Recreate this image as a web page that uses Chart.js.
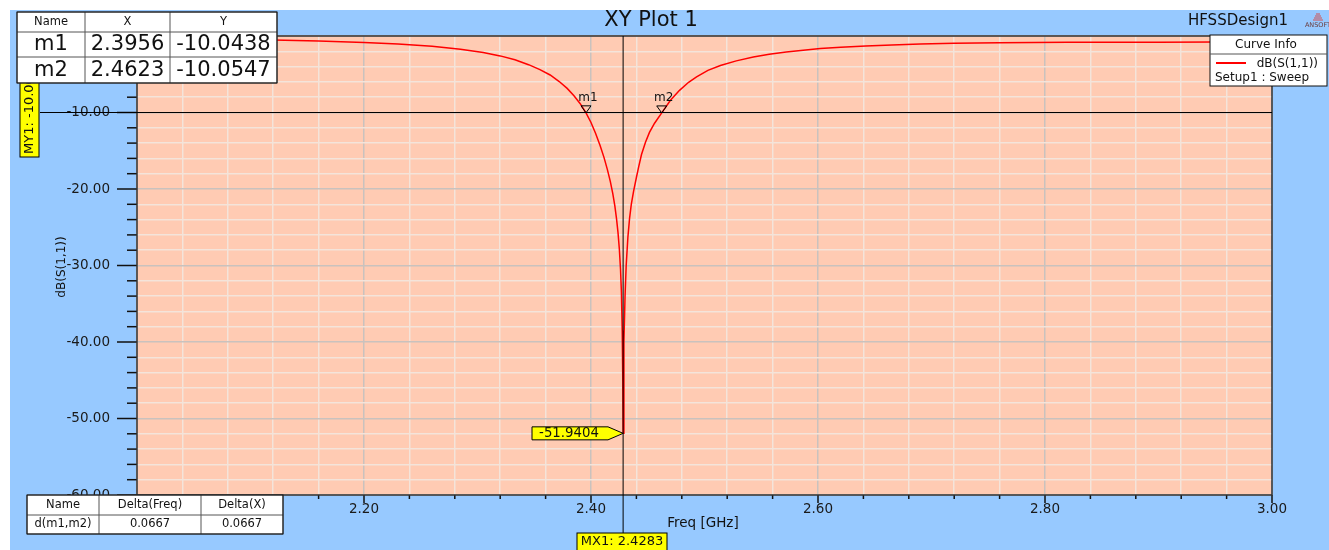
<!DOCTYPE html>
<html>
<head>
<meta charset="utf-8">
<script src="https://cdn.jsdelivr.net/npm/chart.js@4.4.0/dist/chart.umd.min.js"></script>
<style>
  body { margin: 0; background: #fff; }
</style>
</head>
<body>
<canvas id="xy-plot" width="1329" height="550"></canvas>
<script>
// curve: Freq [GHz] / dB(S(1,1))
var freqs = [2.000, 2.040, 2.080, 2.120, 2.160, 2.200, 2.230, 2.260, 2.285, 2.305,
             2.320, 2.333, 2.345, 2.355, 2.364, 2.372, 2.379, 2.385, 2.3905, 2.3956,
             2.400, 2.404, 2.408, 2.4115, 2.4145, 2.4170, 2.4192, 2.4210, 2.4225, 2.4238,
             2.4250, 2.4260, 2.4268, 2.4275, 2.4280, 2.4283, 2.4290, 2.4300, 2.4310, 2.4325,
             2.4340, 2.4355, 2.4375, 2.4400, 2.4420, 2.4445, 2.4480, 2.4515, 2.4560, 2.4623,
             2.4700, 2.4780, 2.4860, 2.4930, 2.5030, 2.5140, 2.5280, 2.5430, 2.5570, 2.5720,
             2.5870, 2.6020, 2.6200, 2.6420, 2.6650, 2.6900, 2.7200, 2.7600, 2.8200, 2.9000,
             2.9500, 3.0000];
var s11 = [-0.30, -0.36, -0.43, -0.52, -0.66, -0.86, -1.05, -1.35, -1.72, -2.15,
           -2.60, -3.10, -3.75, -4.40, -5.10, -5.95, -6.85, -7.80, -8.85, -10.04,
           -11.3, -12.7, -14.3, -15.9, -17.5, -19.0, -20.6, -22.2, -23.9, -25.7,
           -27.9, -30.5, -33.5, -38.5, -45.0, -51.94, -40.0, -34.0, -30.0, -26.3,
           -23.8, -22.0, -20.3, -18.5, -17.1, -15.5, -13.9, -12.6, -11.4, -10.05,
           -8.40, -7.10, -6.05, -5.35, -4.50, -3.85, -3.25, -2.75, -2.40, -2.10,
           -1.85, -1.65, -1.48, -1.32, -1.18, -1.06, -0.96, -0.88, -0.83, -0.81,
           -0.79, -0.74];

var xMajor = [2.0, 2.2, 2.4, 2.6, 2.8, 3.0];
var yMajor = [0, -10, -20, -30, -40, -50, -60];

var markerNames = ['m1', 'm2'];
var markerFreqs = [2.3956, 2.4623];
var markerVals = [-10.0438, -10.0547];
var minFreq = 2.4283;
var minVal = -51.9404;
var lineY = -10.00;

var FONT = '"DejaVu Sans", "Liberation Sans", Arial, sans-serif';
function f(px) { return px + 'px ' + FONT; }

function isMajor(list, v) {
    return list.some(function(m) { return Math.abs(m - v) < 1e-6; });
}

function line(c, x1, y1, x2, y2) {
    c.beginPath();
    c.moveTo(x1, y1);
    c.lineTo(x2, y2);
    c.stroke();
}

function text(c, s, x, y, size, align) {
    c.font = f(size);
    c.textAlign = align || 'center';
    c.textBaseline = 'middle';
    c.fillText(s, x, y);
}

function grid(c, cols, rows) {
    c.fillStyle = '#fff';
    c.fillRect(cols[0], rows[0], cols[cols.length - 1] - cols[0], rows[rows.length - 1] - rows[0]);
    c.strokeStyle = '#555';
    c.lineWidth = 1;
    cols.forEach(function(x) { line(c, x, rows[0], x, rows[rows.length - 1]); });
    rows.forEach(function(y) { line(c, cols[0], y, cols[cols.length - 1], y); });
    c.strokeStyle = '#111';
    c.strokeRect(cols[0], rows[0], cols[cols.length - 1] - cols[0], rows[rows.length - 1] - rows[0]);
}

var deco = {
    id: 'deco',
    beforeDraw: function(chart) {
        var c = chart.ctx, a = chart.chartArea;
        c.save();
        c.fillStyle = '#fff';
        c.fillRect(0, 0, chart.width, chart.height);
        c.fillStyle = '#97c9ff';
        c.fillRect(10, 10, chart.width - 10, chart.height - 10);
        c.fillStyle = '#ffcbb3';
        c.fillRect(a.left, a.top, a.right - a.left, a.bottom - a.top);
        c.restore();
    },
    afterDraw: function(chart) {
        var c = chart.ctx, a = chart.chartArea;
        var xs = chart.scales.x, ys = chart.scales.y;
        c.save();

        // tick marks
        c.strokeStyle = '#111';
        c.lineWidth = 1.5;
        ys.ticks.forEach(function(t) {
            var py = ys.getPixelForValue(t.value);
            var len = isMajor(yMajor, t.value) ? 20 : 10;
            line(c, a.left - len, py, a.left, py);
        });
        xs.ticks.forEach(function(t) {
            var px = xs.getPixelForValue(t.value);
            var len = isMajor(xMajor, t.value) ? 8 : 4;
            line(c, px, a.bottom, px, a.bottom + len);
        });

        // plot frame
        c.strokeStyle = '#333';
        c.lineWidth = 1.5;
        c.strokeRect(a.left, a.top, a.right - a.left, a.bottom - a.top);

        // marker lines
        c.strokeStyle = '#000';
        c.lineWidth = 1;
        var hy = ys.getPixelForValue(lineY);
        line(c, 40, hy, a.right, hy);
        var vx = xs.getPixelForValue(minFreq);
        line(c, vx, a.top, vx, 534);

        // m1 / m2 triangles
        c.fillStyle = '#111';
        for (var i = 0; i < markerNames.length; i++) {
            var mx = xs.getPixelForValue(markerFreqs[i]);
            var my = ys.getPixelForValue(markerVals[i]);
            c.beginPath();
            c.moveTo(mx - 5, my - 7);
            c.lineTo(mx + 5, my - 7);
            c.lineTo(mx, my);
            c.closePath();
            c.stroke();
            text(c, markerNames[i], mx + 2, my - 15, 12);
        }

        // MY1 label (vertical)
        c.fillStyle = '#ffff00';
        c.fillRect(20, 76, 19, 81);
        c.strokeRect(20, 76, 19, 81);
        c.save();
        c.translate(30, 154);
        c.rotate(-Math.PI / 2);
        c.fillStyle = '#111';
        text(c, 'MY1: ' + lineY.toFixed(2), 0, 0, 13, 'left');
        c.restore();

        // minimum value arrow label
        var tipX = xs.getPixelForValue(minFreq), tipY = ys.getPixelForValue(minVal);
        c.fillStyle = '#ffff00';
        c.beginPath();
        c.moveTo(532, tipY - 6.5);
        c.lineTo(608, tipY - 6.5);
        c.lineTo(tipX, tipY);
        c.lineTo(608, tipY + 6.5);
        c.lineTo(532, tipY + 6.5);
        c.closePath();
        c.fill();
        c.stroke();
        c.fillStyle = '#111';
        text(c, minVal.toFixed(4), 569, tipY, 13.3);

        // MX1 label
        c.fillStyle = '#ffff00';
        c.fillRect(577, 533, 90, 20);
        c.strokeRect(577, 533, 90, 20);
        c.fillStyle = '#111';
        text(c, 'MX1: ' + minFreq.toFixed(4), 622, 542, 13);

        // axis titles
        text(c, 'Freq [GHz]', 703, 523, 13.5);
        c.save();
        c.translate(62, 267);
        c.rotate(-Math.PI / 2);
        text(c, 'dB(S(1,1))', 0, 0, 12);
        c.restore();

        // title and design name
        text(c, 'XY Plot 1', 651, 21, 21);
        text(c, 'HFSSDesign1', 1288, 21, 15, 'right');
        c.strokeStyle = '#d05050';
        for (var k = 0; k < 4; k++) {
            line(c, 1313 + k, 20 - k * 2, 1323 - k, 20 - k * 2);
        }
        c.fillStyle = '#6b3b3b';
        text(c, 'ANSOFT', 1318, 25, 6.5);

        // marker table
        grid(c, [17, 85, 170, 277], [12, 32, 57, 83]);
        c.fillStyle = '#111';
        text(c, 'Name', 51, 22, 11.5);
        text(c, 'X', 127.5, 22, 11.5);
        text(c, 'Y', 223.5, 22, 11.5);
        for (var r = 0; r < markerNames.length; r++) {
            var cy = 45 + r * 25.5;
            text(c, markerNames[r], 51, cy, 21);
            text(c, markerFreqs[r].toFixed(4), 127.5, cy, 21);
            text(c, markerVals[r].toFixed(4), 223.5, cy, 21);
        }

        // delta table
        grid(c, [27, 99, 201, 283], [495, 515, 534]);
        c.fillStyle = '#111';
        var dF = (markerFreqs[1] - markerFreqs[0]).toFixed(4);
        text(c, 'Name', 63, 505, 11.5);
        text(c, 'Delta(Freq)', 150, 505, 11.5);
        text(c, 'Delta(X)', 242, 505, 11.5);
        text(c, 'd(' + markerNames[0] + ',' + markerNames[1] + ')', 63, 524.5, 11.5);
        text(c, dF, 150, 524.5, 11.5);
        text(c, dF, 242, 524.5, 11.5);

        // curve info legend
        c.fillStyle = '#fff';
        c.fillRect(1210, 35, 117, 51);
        c.strokeStyle = '#111';
        c.strokeRect(1210, 35, 117, 51);
        c.strokeStyle = '#555';
        line(c, 1210, 54, 1327, 54);
        c.fillStyle = '#111';
        text(c, 'Curve Info', 1266, 44.5, 12);
        c.strokeStyle = '#ff0000';
        c.lineWidth = 2;
        line(c, 1216, 63, 1246, 63);
        c.fillStyle = '#111';
        text(c, 'dB(S(1,1))', 1318, 64, 12, 'right');
        text(c, 'Setup1 : Sweep', 1215, 77.5, 12, 'left');

        c.restore();
    }
};

var points = freqs.map(function(v, i) { return { x: v, y: s11[i] }; });

new Chart(document.getElementById('xy-plot'), {
    type: 'line',
    data: {
        datasets: [{
            label: 'dB(S(1,1))',
            data: points,
            borderColor: '#ff0000',
            borderWidth: 1.5,
            pointRadius: 0,
            tension: 0,
            fill: false
        }]
    },
    options: {
        responsive: false,
        animation: false,
        devicePixelRatio: 1,
        layout: { padding: { top: 36, right: 57, left: 0, bottom: 0 } },
        plugins: {
            legend: { display: false },
            tooltip: { enabled: false }
        },
        scales: {
            x: {
                type: 'linear',
                min: 2.0,
                max: 3.0,
                afterFit: function(scale) { scale.height = 55; },
                border: { display: false },
                grid: {
                    drawTicks: false,
                    lineWidth: 1.5,
                    color: function(ctx) {
                        return isMajor(xMajor, ctx.tick.value) ? '#c9c2be' : '#f4e4da';
                    }
                },
                ticks: {
                    stepSize: 0.04,
                    autoSkip: false,
                    maxRotation: 0,
                    padding: 6,
                    color: '#1a1a1a',
                    font: { family: FONT, size: 13.5 },
                    callback: function(v) { return isMajor(xMajor, v) ? v.toFixed(2) : ''; }
                }
            },
            y: {
                min: -60,
                max: 0,
                afterFit: function(scale) { scale.width = 137; },
                border: { display: false },
                grid: {
                    drawTicks: false,
                    lineWidth: 1.5,
                    color: function(ctx) {
                        return isMajor(yMajor, ctx.tick.value) ? '#c9c2be' : '#f4e4da';
                    }
                },
                ticks: {
                    stepSize: 2,
                    autoSkip: false,
                    padding: 27,
                    color: '#1a1a1a',
                    font: { family: FONT, size: 13.5 },
                    callback: function(v) { return isMajor(yMajor, v) ? v.toFixed(2) : ''; }
                }
            }
        }
    },
    plugins: [deco]
});
</script>
</body>
</html>
